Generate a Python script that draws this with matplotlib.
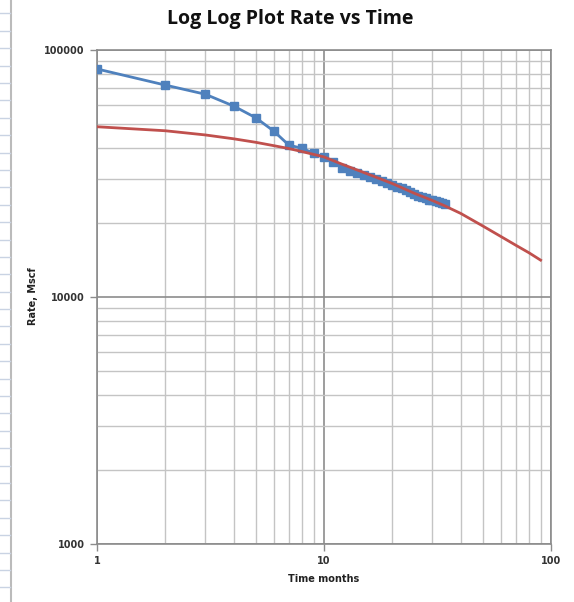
import matplotlib
matplotlib.use('Agg')
import matplotlib.pyplot as plt
from matplotlib.lines import Line2D
from matplotlib.ticker import FixedLocator, FixedFormatter, NullFormatter

# measured rate (blue squares), one point per month
months = list(range(1, 35))
rate = [83800, 72100, 66200, 59300, 53200, 47000, 41200, 40000, 38200, 36800,
        35300, 33400, 32400, 31800, 31300, 30700, 30100, 29500, 29000, 28500,
        28000, 27500, 27000, 26500, 26100, 25700, 25400, 25100, 24800, 24600,
        24400, 24200, 24100, 23900]

# decline curve (red line)
fit_t = [1, 2, 3, 4, 5, 6, 7, 8, 10, 12, 15, 20, 25, 30, 34, 40, 50, 60, 70, 80, 90]
fit_q = [48900, 47100, 45300, 43700, 42300, 41000, 39900, 38800, 36900, 34500,
         31900, 28800, 26300, 24600, 23400, 21800, 19400, 17600, 16200, 15100, 14100]

W, H = 574, 602
fig = plt.figure(figsize=(W/100, H/100), dpi=100)
ax = fig.add_axes([97/W, 1-544/H, (551-97)/W, (544-50)/H])

ax.plot(months, rate, '-s', color='#4F81BD', linewidth=2, markersize=6, zorder=3)
ax.plot(fit_t, fit_q, '-', color='#C0504D', linewidth=2, zorder=4)

ax.set_xscale('log')
ax.set_yscale('log')
ax.set_xlim(1, 100)
ax.set_ylim(1000, 100000)

# grid
minor_x = [m*d for d in (1, 10) for m in range(2, 10)]
minor_y = [m*d for d in (1000, 10000) for m in range(2, 10)]
ax.xaxis.set_minor_locator(FixedLocator(minor_x))
ax.yaxis.set_minor_locator(FixedLocator(minor_y))
ax.xaxis.set_minor_formatter(NullFormatter())
ax.yaxis.set_minor_formatter(NullFormatter())
ax.xaxis.set_major_locator(FixedLocator([1, 10, 100]))
ax.yaxis.set_major_locator(FixedLocator([1000, 10000, 100000]))
ax.xaxis.set_major_formatter(FixedFormatter(['1', '10', '100']))
ax.yaxis.set_major_formatter(FixedFormatter(['1000', '10000', '100000']))
ax.grid(True, which='major', color='#8C8C8C', linewidth=1.2)
ax.grid(True, which='minor', color='#C4C4C4', linewidth=1.0)
ax.tick_params(which='minor', length=0)
ax.tick_params(which='major', length=5, width=1, color='#8C8C8C',
               labelsize=7, labelcolor='#333333', pad=4)
for lab in ax.get_xticklabels() + ax.get_yticklabels():
    lab.set_fontweight('bold')
for s in ax.spines.values():
    s.set_color('#8C8C8C')
    s.set_linewidth(1.2)

fig.text(290/W, 1-19/H, 'Log Log Plot Rate vs Time', ha='center', va='center',
         fontsize=14, fontweight='bold', family='Open Sans', color='#111111')
fig.text(324/W, 1-579/H, 'Time months', ha='center', va='center',
         fontsize=7, fontweight='bold', color='#222222')
fig.text(33/W, 1-296/H, 'Rate, Mscf', ha='center', va='center', rotation=90,
         fontsize=7, fontweight='bold', color='#222222')

# spreadsheet cells behind the chart on the left
fig.add_artist(Line2D([11/W, 11/W], [0, 1], color='#BBBBBB', linewidth=1.5))
y = 13.3
while y < H:
    fig.add_artist(Line2D([0, 10/W], [1-y/H, 1-y/H], color='#C9D3E3', linewidth=1))
    y += 17.4

fig.savefig('out.png', dpi=100)
